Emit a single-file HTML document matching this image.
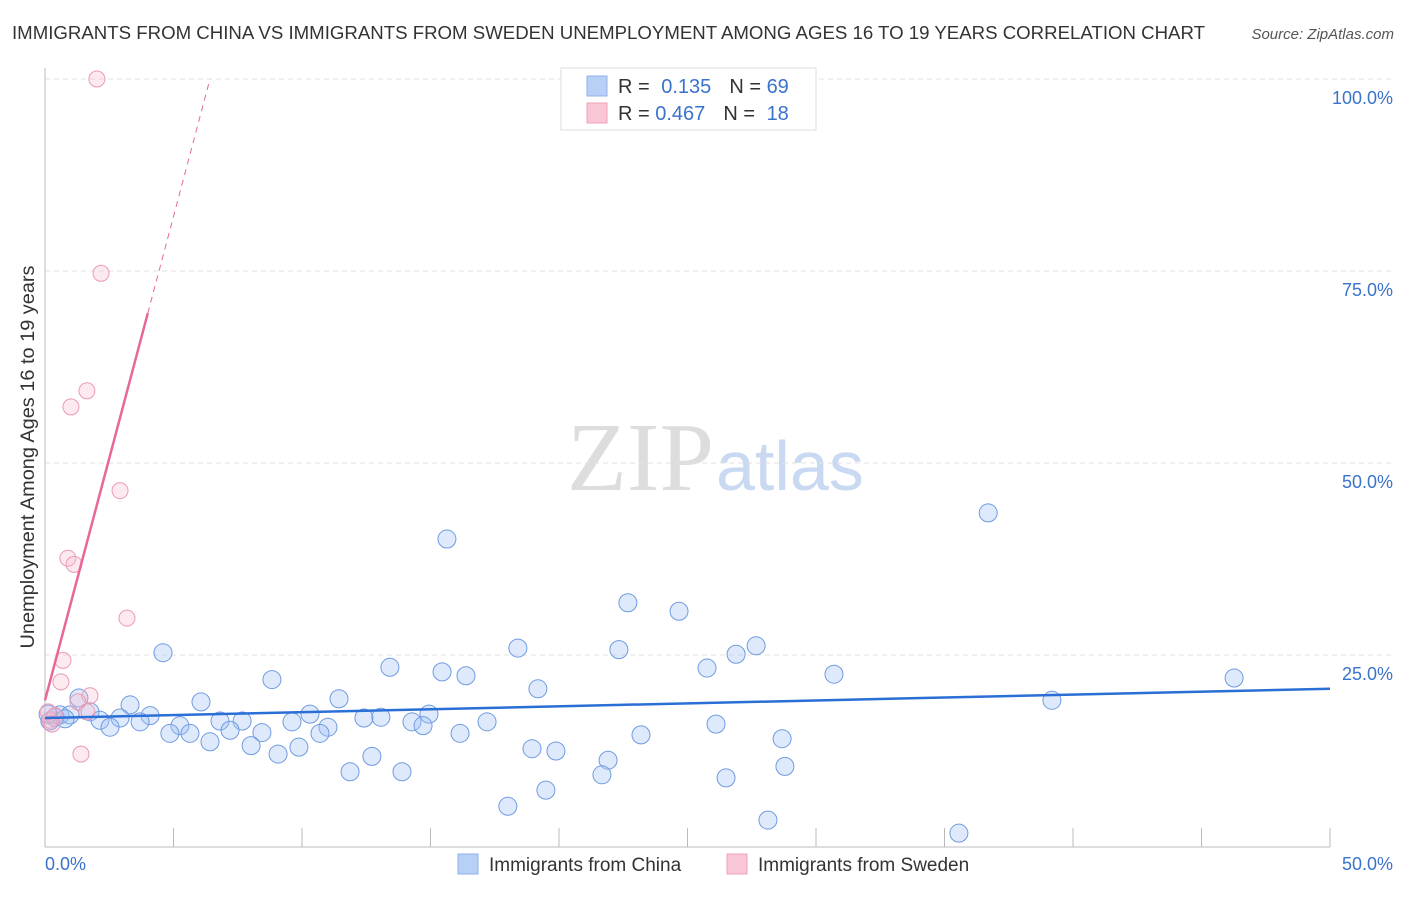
<!DOCTYPE html>
<html><head><meta charset="utf-8"><style>
body{margin:0;background:#fff;font-family:"Liberation Sans",sans-serif}
</style></head><body>
<svg id="c" width="1406" height="892" xmlns="http://www.w3.org/2000/svg">
<text x="12" y="39" font-size="18" fill="#333" textLength="1193" lengthAdjust="spacingAndGlyphs">IMMIGRANTS FROM CHINA VS IMMIGRANTS FROM SWEDEN UNEMPLOYMENT AMONG AGES 16 TO 19 YEARS CORRELATION CHART</text>
<text x="1394" y="39" font-size="15" fill="#555" font-style="italic" text-anchor="end">Source: ZipAtlas.com</text>
<text x="714" y="490" font-size="98" fill="#ddd" text-anchor="end" font-family="Liberation Serif,serif">ZIP</text>
<text x="716" y="490" font-size="70" fill="#c9d9f2">atlas</text>
<text transform="translate(34,457) rotate(-90)" font-size="19" fill="#333" text-anchor="middle" textLength="383" lengthAdjust="spacingAndGlyphs">Unemployment Among Ages 16 to 19 years</text>
<g id="grid"></g><g id="pts"></g><g id="lines"></g>
<g>
<rect x="561" y="68" width="255" height="62" fill="#fff" stroke="#ddd"/>
<rect x="587" y="76" width="20" height="20" fill="#b8d0f5" stroke="#8fb0e8"/>
<rect x="587" y="103" width="20" height="20" fill="#f9c6d6" stroke="#f0a0ba"/>
<text x="618" y="93" font-size="20" fill="#333">R = <tspan fill="#3a73cc" dx="6">0.135</tspan><tspan dx="18" fill="#333">N = </tspan><tspan fill="#3a73cc">69</tspan></text>
<text x="618" y="120" font-size="20" fill="#333">R = <tspan fill="#3a73cc">0.467</tspan><tspan dx="18" fill="#333">N = </tspan><tspan fill="#3a73cc" dx="6">18</tspan></text>
</g>
<g>
<rect x="458" y="854" width="20" height="20" fill="#b8d0f5" stroke="#8fb0e8"/>
<text x="489" y="871" font-size="19" fill="#333">Immigrants from China</text>
<rect x="727" y="854" width="20" height="20" fill="#f9c6d6" stroke="#f0a0ba"/>
<text x="758" y="871" font-size="19" fill="#333">Immigrants from Sweden</text>
</g>
</svg>
<script>
const yTicks=[25,50,75,100];
const xTickLabels=["0.0%","50.0%"];
const chinaX=[15.64,36.70,22.68,24.67,18.40,22.33,27.67,26.89,4.59,13.42,25.76,15.45,16.38,30.70,8.83,46.27,19.18,39.18,1.32,3.31,6.07,11.44,1.75,4.09,2.14,2.92,0.58,0.97,10.31,12.41,13.07,14.94,7.67,6.81,9.61,14.28,14.71,17.20,11.01,26.11,2.53,3.70,5.25,4.86,5.64,7.20,8.44,10.70,16.15,23.19,6.42,8.02,9.88,18.95,19.88,28.68,9.07,12.72,21.91,11.87,13.89,28.79,21.67,26.50,19.49,18.01,28.13,35.56,0.19,0.39,0.78,0.12];
const chinaY=[40.1,43.5,31.8,30.7,25.9,25.7,26.2,25.1,25.3,23.4,23.3,22.8,22.3,22.5,21.8,22.0,20.6,19.1,19.4,18.5,18.9,19.3,17.6,17.1,16.5,16.8,17.2,17.2,17.3,16.8,16.9,17.3,16.4,16.4,16.3,16.3,15.8,16.3,15.6,16.0,15.6,16.3,15.8,14.8,14.8,15.2,14.9,14.8,14.8,14.6,13.7,13.2,13.0,12.8,12.5,14.1,12.1,11.8,11.3,9.8,9.8,10.5,9.4,9.0,7.4,5.3,3.5,1.8,16.4,16.9,16.7,17.3];
const swedenX=[2.02,2.18,1.63,1.01,2.92,0.89,1.13,3.19,0.70,0.62,1.75,1.28,1.40,1.63,0.19,0.39,0.12,0.27];
const swedenY=[100,74.7,59.4,57.3,46.4,37.6,36.8,29.8,24.3,21.5,19.7,18.9,12.1,17.6,16.5,17.1,17.6,16.0];
const ns="http://www.w3.org/2000/svg";
const X=v=>45+v*25.7, Y=v=>847-v*7.68;
function mk(t,a,p){const e=document.createElementNS(ns,t);for(const k in a)e.setAttribute(k,a[k]);p.appendChild(e);return e;}
const g=document.getElementById('grid');
yTicks.forEach(t=>{const l=mk('line',{x1:45,x2:1394,y1:Y(t),y2:Y(t),stroke:'#e2e2e2','stroke-dasharray':'5,4'},g);


const tx=mk('text',{x:1393,y:Y(t)+25,'font-size':18,fill:'#3a73cc','text-anchor':'end'},g);tx.textContent=t.toFixed(1)+'%';

});
mk('line',{x1:45,x2:45,y1:68,y2:847,stroke:'#bbb'},g);
mk('line',{x1:45,x2:1330,y1:847,y2:847,stroke:'#bbb'},g);
for(let i=0;i<=10;i++){mk('line',{x1:X(i*5),x2:X(i*5),y1:828,y2:847,stroke:'#bbb'},g);}
const l0=mk('text',{x:45,y:870,'font-size':18,fill:'#3a73cc'},g);l0.textContent=xTickLabels[0];


const l1=mk('text',{x:1393,y:870,'font-size':18,fill:'#3a73cc','text-anchor':'end'},g);l1.textContent=xTickLabels[1];


const p=document.getElementById('pts');
chinaX.forEach((x,i)=>{const c=mk('circle',{cx:X(x),cy:Y(chinaY[i]),r:9,fill:'rgba(160,195,245,0.35)',stroke:'#6f9be0','stroke-width':1},p);

});
swedenX.forEach((x,i)=>{const c=mk('circle',{cx:X(x),cy:Y(swedenY[i]),r:8,fill:'rgba(248,185,205,0.3)',stroke:'#eb9ab4','stroke-width':1},p);

});
const L=document.getElementById('lines');
const b=mk('line',{x1:X(0),y1:Y(16.8),x2:X(50),y2:Y(20.6),stroke:'#2a6fd6','stroke-width':2.5},L);


const s=mk('line',{x1:X(0),y1:Y(19.1),x2:X(4.0),y2:Y(69.5),stroke:'#e8679a','stroke-width':2.5},L);


const sd=mk('line',{x1:X(4.0),y1:Y(69.5),x2:X(6.42),y2:Y(100),stroke:'#e8679a','stroke-width':1,'stroke-dasharray':'6,5'},L);


</script>
</body></html>
